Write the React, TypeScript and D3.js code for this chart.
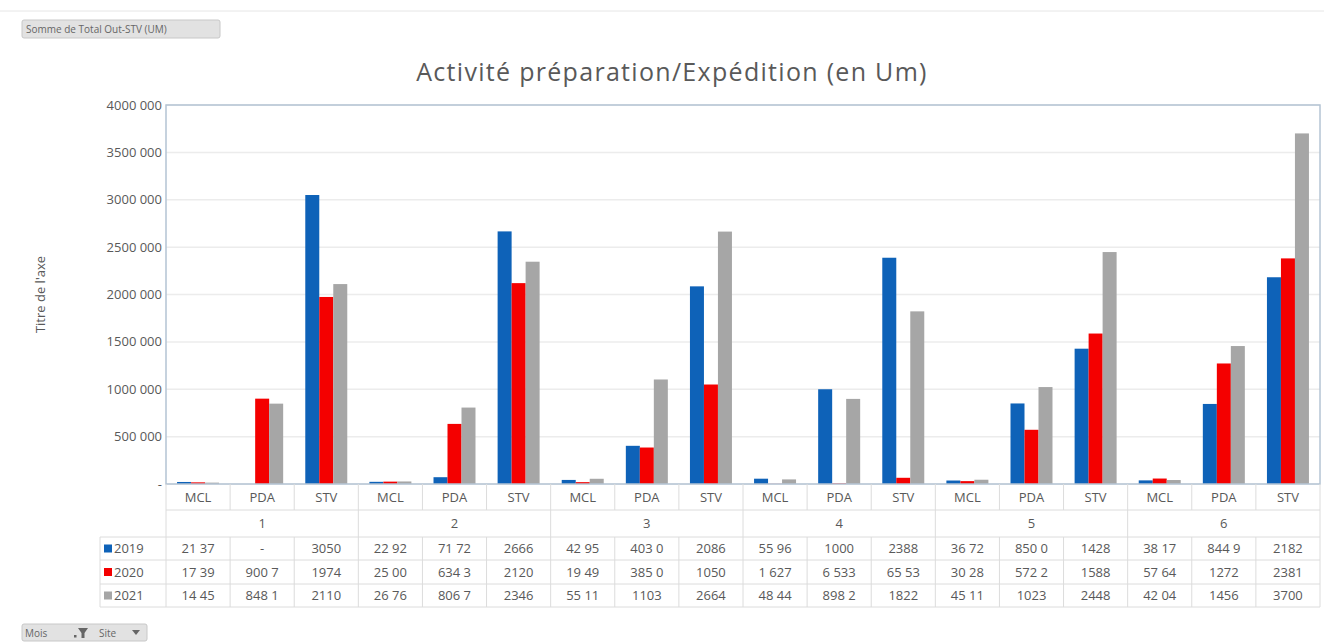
import React from "react";
import * as d3 from "d3";

const months = ["1", "2", "3", "4", "5", "6"];
const sites = ["MCL", "PDA", "STV"];
const years = ["2019", "2020", "2021"];
const colors = ["#0e62b8", "#f40000", "#a6a6a6"];

// values per category (month-site order), per year
const values2019 = [21370, 0, 3050000, 22920, 71720, 2666000, 42950, 403000, 2086000, 55960, 1000000, 2388000, 36720, 850000, 1428000, 38170, 844900, 2182000];
const values2020 = [17390, 900700, 1974000, 25000, 634300, 2120000, 19490, 385000, 1050000, 1627, 6533, 65530, 30280, 572200, 1588000, 57640, 1272000, 2381000];
const values2021 = [14450, 848100, 2110000, 26760, 806700, 2346000, 55110, 1103000, 2664000, 48440, 898200, 1822000, 45110, 1023000, 2448000, 42040, 1456000, 3700000];

// table text as shown (truncated in the original)
const table2019 = ["21 37", "-", "3050", "22 92", "71 72", "2666", "42 95", "403 0", "2086", "55 96", "1000", "2388", "36 72", "850 0", "1428", "38 17", "844 9", "2182"];
const table2020 = ["17 39", "900 7", "1974", "25 00", "634 3", "2120", "19 49", "385 0", "1050", "1 627", "6 533", "65 53", "30 28", "572 2", "1588", "57 64", "1272", "2381"];
const table2021 = ["14 45", "848 1", "2110", "26 76", "806 7", "2346", "55 11", "1103", "2664", "48 44", "898 2", "1822", "45 11", "1023", "2448", "42 04", "1456", "3700"];

const yTicks = [0, 500000, 1000000, 1500000, 2000000, 2500000, 3000000, 3500000, 4000000];
const yTickLabels = ["-", "500 000", "1000 000", "1500 000", "2000 000", "2500 000", "3000 000", "3500 000", "4000 000"];

const title = "Activité préparation/Expédition (en Um)";
const yTitle = "Titre de l'axe";

export default function App() {
  const W = 1324, H = 644;
  const left = 166, right = 1320, top = 105, bottom = 484;
  const font = "'Open Sans', 'Noto Sans', sans-serif";
  const textColor = "#595959";

  const cats = months.flatMap((m) => sites.map((s) => `${m}-${s}`));
  const x = d3.scaleBand<string>().domain(cats).range([left, right]);
  const xm = d3.scaleBand<string>().domain(months).range([left, right]);
  const xi = d3.scaleBand<string>().domain(years).range([0, x.bandwidth()]).paddingOuter(0.79);
  const y = d3.scaleLinear().domain([0, 4000000]).range([bottom, top]);

  const series = [values2019, values2020, values2021];
  const tables = [table2019, table2020, table2021];

  const rowTops = [484, 510, 537, 560, 584, 607];
  const legendLeft = 100;
  const gridColor = "#dcdcdc";

  return (
    <svg width={W} height={H} style={{ position: "absolute", left: 0, top: 0, background: "#fff" }}>
      <rect x={0} y={0} width={W} height={H} fill="#ffffff" />
      <line x1={0} x2={W} y1={11} y2={11} stroke="#e6e6e6" strokeWidth={1} />
      {/* top-left field button */}
      <rect x={22} y={20} width={198} height={18} rx={2} fill="#e2e2e2" stroke="#c8c8c8" />
      <text x={26} y={33} fontSize={10} fontFamily={font} fill="#666">Somme de Total Out-STV (UM)</text>

      <text x={672} y={81} textAnchor="middle" fontSize={25} letterSpacing={1.3} fontFamily={font} fill="#595959">{title}</text>

      {/* gridlines */}
      {yTicks.map((t) => (
        <line key={t} x1={left} x2={right} y1={y(t)} y2={y(t)} stroke="#ececec" strokeWidth={1.5} />
      ))}
      {/* y labels */}
      {yTicks.map((t, i) => (
        <text key={t} x={162} y={y(t) + 4.5} textAnchor="end" fontSize={13} fontFamily={font} fill={textColor}>
          {yTickLabels[i]}
        </text>
      ))}
      <text transform={`translate(45, ${(top + bottom) / 2}) rotate(-90)`} textAnchor="middle" fontSize={13} fontFamily={font} fill={textColor}>
        {yTitle}
      </text>

      {/* bars */}
      {series.map((vals, si) =>
        vals.map((v, ci) => (
          <rect
            key={`${si}-${ci}`}
            x={(x(cats[ci]) ?? 0) + (xi(years[si]) ?? 0)}
            y={y(v)}
            width={xi.bandwidth()}
            height={bottom - y(v)}
            fill={colors[si]}
          />
        ))
      )}

      {/* plot border */}
      <rect x={left} y={top} width={right - left} height={bottom - top} fill="none" stroke="#b4c4d4" strokeWidth={1.5} />

      {/* table grid */}
      <line x1={left} x2={right} y1={rowTops[1]} y2={rowTops[1]} stroke={gridColor} />
      {rowTops.slice(2).map((r) => (
        <line key={r} x1={legendLeft} x2={right} y1={r} y2={r} stroke={gridColor} />
      ))}
      {cats.concat(["end"]).map((c, i) => {
        const xx = i < cats.length ? (x(c) ?? 0) : right;
        const isMonthEdge = i % 3 === 0;
        return (
          <g key={c}>
            <line x1={xx} x2={xx} y1={rowTops[0]} y2={isMonthEdge ? rowTops[5] : rowTops[1]} stroke={gridColor} />
            {!isMonthEdge && <line x1={xx} x2={xx} y1={rowTops[2]} y2={rowTops[5]} stroke={gridColor} />}
          </g>
        );
      })}
      <line x1={legendLeft} x2={legendLeft} y1={rowTops[2]} y2={rowTops[5]} stroke={gridColor} />

      {/* category labels */}
      {cats.map((c, i) => (
        <text key={c} x={(x(c) ?? 0) + x.bandwidth() / 2} y={502} textAnchor="middle" fontSize={13} fontFamily={font} fill={textColor}>
          {sites[i % 3]}
        </text>
      ))}
      {months.map((m) => (
        <text key={m} x={(xm(m) ?? 0) + xm.bandwidth() / 2} y={528} textAnchor="middle" fontSize={13} fontFamily={font} fill={textColor}>
          {m}
        </text>
      ))}

      {/* data rows */}
      {tables.map((row, ri) => {
        const cy = (rowTops[ri + 2] + rowTops[ri + 3]) / 2;
        return (
          <g key={ri}>
            <rect x={104} y={cy - 4} width={8} height={8} fill={colors[ri]} />
            <text x={114} y={cy + 4.5} fontSize={13} fontFamily={font} fill={textColor}>{years[ri]}</text>
            {row.map((t, ci) => (
              <text key={ci} x={(x(cats[ci]) ?? 0) + x.bandwidth() / 2} y={cy + 4.5} textAnchor="middle" fontSize={13} fontFamily={font} fill={textColor}>
                {t}
              </text>
            ))}
          </g>
        );
      })}

      {/* bottom field buttons */}
      <rect x={22} y={624} width={125} height={17} rx={2} fill="#e2e2e2" stroke="#c8c8c8" />
      <text x={25} y={636.5} fontSize={10} fontFamily={font} fill="#666">Mois</text>
      <path d="M78,628 L88,628 L84.5,633 L84.5,638 L81.5,638 L81.5,633 Z" fill="#666" />
      <rect x={74} y={635} width={2.5} height={2.5} fill="#666" />
      <text x={99} y={636.5} fontSize={10} fontFamily={font} fill="#666">Site</text>
      <path d="M132,630 L140,630 L136,635 Z" fill="#666" />
    </svg>
  );
}
